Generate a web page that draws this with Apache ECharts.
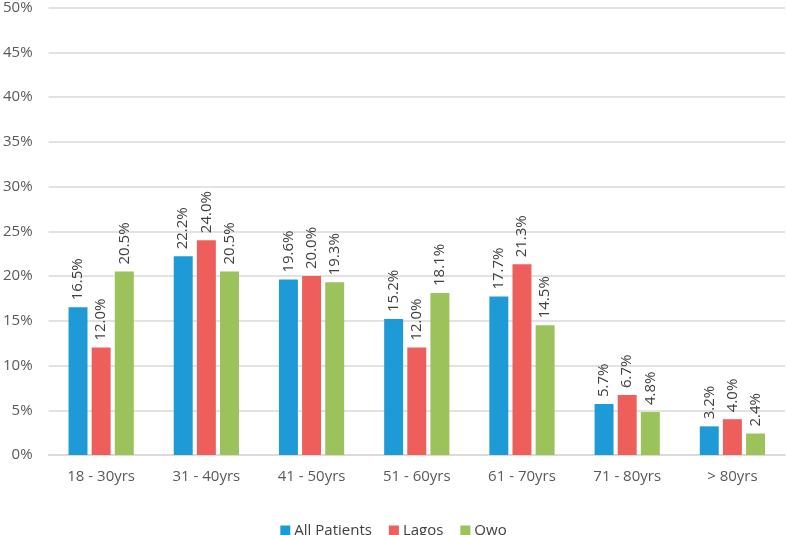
<!DOCTYPE html>
<html><head><meta charset="utf-8">
<script src="https://cdn.jsdelivr.net/npm/echarts@6/dist/echarts.min.js"></script>
<style>html,body{margin:0;padding:0;background:#fff}#c{width:787px;height:535px}</style>
</head><body><div id="c"></div>
<script>
const categories = ['18 - 30yrs','31 - 40yrs','41 - 50yrs','51 - 60yrs','61 - 70yrs','71 - 80yrs','> 80yrs'];
const allPatients = [16.5,22.2,19.6,15.2,17.7,5.7,3.2];
const lagos = [12.0,24.0,20.0,12.0,21.3,6.7,4.0];
const owo = [20.5,20.5,19.3,18.1,14.5,4.8,2.4];
const seriesNames = ['All Patients','Lagos','Owo'];
const colors = ['#1E9BD7','#EE5F5B','#9BC25B'];
const font = '"Open Sans", sans-serif';
const lbl = {show:true, position:'top', rotate:90, align:'left', verticalAlign:'middle', distance:7,
  color:'#404040', fontSize:15, fontFamily:font, formatter: p => p.value.toFixed(1)+'%'};
const mk = (name, data, color) => ({name, type:'bar', data, itemStyle:{color}, barGap:'22%', barCategoryGap:'38%', label:lbl});
const chart = echarts.init(document.getElementById('c'));
chart.setOption({
  animation:false,
  grid:{left:45, right:2, top:6, bottom:80},
  legend:{top:518, left:'center', itemWidth:10, itemHeight:10, itemGap:17, icon:'rect',
    textStyle:{color:'#404040', fontSize:15, fontFamily:font, padding:[0,0,0,-1]}},
  xAxis:{type:'category', data:categories,
    axisLine:{lineStyle:{color:'#d9d9d9', width:1.5}}, axisTick:{show:false},
    axisLabel:{color:'#595959', fontSize:15, fontFamily:font, margin:14}},
  yAxis:{type:'value', min:0, max:50, interval:5,
    axisLabel:{formatter:'{value}%', color:'#595959', fontSize:15, fontFamily:font, margin:16},
    splitLine:{lineStyle:{color:'#d9d9d9', width:1.5}}, axisLine:{show:false}, axisTick:{show:false}},
  series:[mk(seriesNames[0], allPatients, colors[0]), mk(seriesNames[1], lagos, colors[1]), mk(seriesNames[2], owo, colors[2])]
});
</script></body></html>
